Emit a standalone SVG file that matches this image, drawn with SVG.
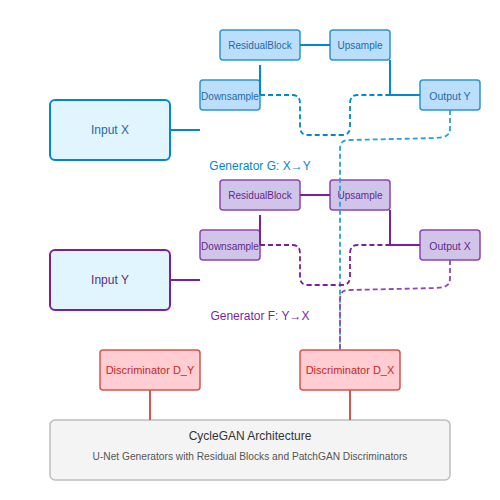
<svg xmlns="http://www.w3.org/2000/svg" width="500" height="500" viewBox="0 0 500 500">
<style>
text{font-family:"Liberation Sans",Arial,sans-serif;text-anchor:middle;dominant-baseline:central}
.bn{fill:#bbdefb;stroke:#2b96d6;stroke-width:1.5}
.bt{fill:#1f6aa8;font-size:10px}
.pn{fill:#d1c4e9;stroke:#8e44b0;stroke-width:1.5}
.pt{fill:#5e2a8a;font-size:10px}
.big{font-size:10.5px}
.in{fill:#e1f5fe;stroke-width:2}
.dn{fill:#ffcdd2;stroke:#d9534f;stroke-width:1.5}
.dt{fill:#c62828;font-size:11px}
.cb{fill:none;stroke:#0288d1;stroke-width:2}
.cp{fill:none;stroke:#7b1fa2;stroke-width:2}
.db{fill:none;stroke:#0288d1;stroke-width:1.8;stroke-dasharray:5,3}
.dbl{fill:none;stroke:#2a9fdc;stroke-width:1.8;stroke-dasharray:5,3}
.dp{fill:none;stroke:#7b1fa2;stroke-width:1.8;stroke-dasharray:5,3}
.dpl{fill:none;stroke:#9246b6;stroke-width:1.8;stroke-dasharray:5,3}
.cr{fill:none;stroke:#d9534f;stroke-width:2}
</style>
<g id="input-x"><rect class="in" x="50" y="100" width="120" height="60" rx="5" stroke="#0288d1"/><text x="110" y="130" font-size="12" fill="#1f6aa8">Input X</text></g>
<g id="g-residual"><rect class="bn" x="220" y="30" width="80" height="30" rx="3"/><text class="bt" x="260" y="45">ResidualBlock</text></g>
<g id="g-upsample"><rect class="bn" x="330" y="30" width="60" height="30" rx="3"/><text class="bt" x="360" y="45">Upsample</text></g>
<g id="g-downsample"><rect class="bn" x="200" y="80" width="60" height="30" rx="3"/><text class="bt" x="230" y="96">Downsample</text></g>
<g id="output-y"><rect class="bn" x="420" y="80" width="60" height="30" rx="3"/><text class="bt big" x="450" y="96">Output Y</text></g>
<g id="label-g"><text x="260" y="166" font-size="12" fill="#0288d1">Generator G: X→Y</text></g>

<g id="input-y"><rect class="in" x="50" y="250" width="120" height="60" rx="5" stroke="#7b1fa2"/><text x="110" y="280" font-size="12" fill="#5e2a8a">Input Y</text></g>
<g id="f-residual"><rect class="pn" x="220" y="180" width="80" height="30" rx="3"/><text class="pt" x="260" y="195">ResidualBlock</text></g>
<g id="f-upsample"><rect class="pn" x="330" y="180" width="60" height="30" rx="3"/><text class="pt" x="360" y="195">Upsample</text></g>
<g id="f-downsample"><rect class="pn" x="200" y="230" width="60" height="30" rx="3"/><text class="pt" x="230" y="246">Downsample</text></g>
<g id="output-x"><rect class="pn" x="420" y="230" width="60" height="30" rx="3"/><text class="pt big" x="450" y="246">Output X</text></g>
<g id="label-f"><text x="260" y="316" font-size="12" fill="#7b1fa2">Generator F: Y→X</text></g>

<g id="disc-dy"><rect class="dn" x="100" y="350" width="100" height="40" rx="3"/><text class="dt" x="150" y="370">Discriminator D_Y</text></g>
<g id="disc-dx"><rect class="dn" x="300" y="350" width="100" height="40" rx="3"/><text class="dt" x="350" y="370">Discriminator D_X</text></g>

<g id="summary"><rect x="50" y="420" width="400" height="60" rx="5" fill="#f4f4f4" stroke="#bdbdbd" stroke-width="1.5"/><text x="250" y="436" font-size="12" fill="#333">CycleGAN Architecture</text><text x="250" y="456" font-size="10.2" fill="#555">U-Net Generators with Residual Blocks and PatchGAN Discriminators</text></g>

<g id="connectors">
<path class="cb" d="M170,130 H200"/>
<path class="cb" d="M300,45 H330"/>
<path class="cb" d="M260,65 V95"/>
<path class="cb" d="M390,60 V95 H420"/>
<path class="db" d="M260,95 H292 Q300,95 300,103 V127 Q300,135 308,135 H342 Q350,135 350,127 V103 Q350,95 358,95 H390"/>
<path class="dbl" d="M450,110 V128 C450,136 446,137 436,138 L350,140 C342,140 340,143 340,150 V350"/>

<path class="cp" d="M170,280 H200"/>
<path class="cp" d="M300,195 H330"/>
<path class="cp" d="M260,215 V245"/>
<path class="cp" d="M390,210 V245 H420"/>
<path class="dp" d="M260,245 H292 Q300,245 300,253 V277 Q300,285 308,285 H342 Q350,285 350,277 V253 Q350,245 358,245 H390"/>
<path class="dpl" d="M450,260 V278 C450,286 446,287 436,288 L350,290 C342,290 340,293 340,300 V350"/>

<path class="cr" d="M150,390 V420"/>
<path class="cr" d="M350,390 V420"/>
</g>
</svg>
